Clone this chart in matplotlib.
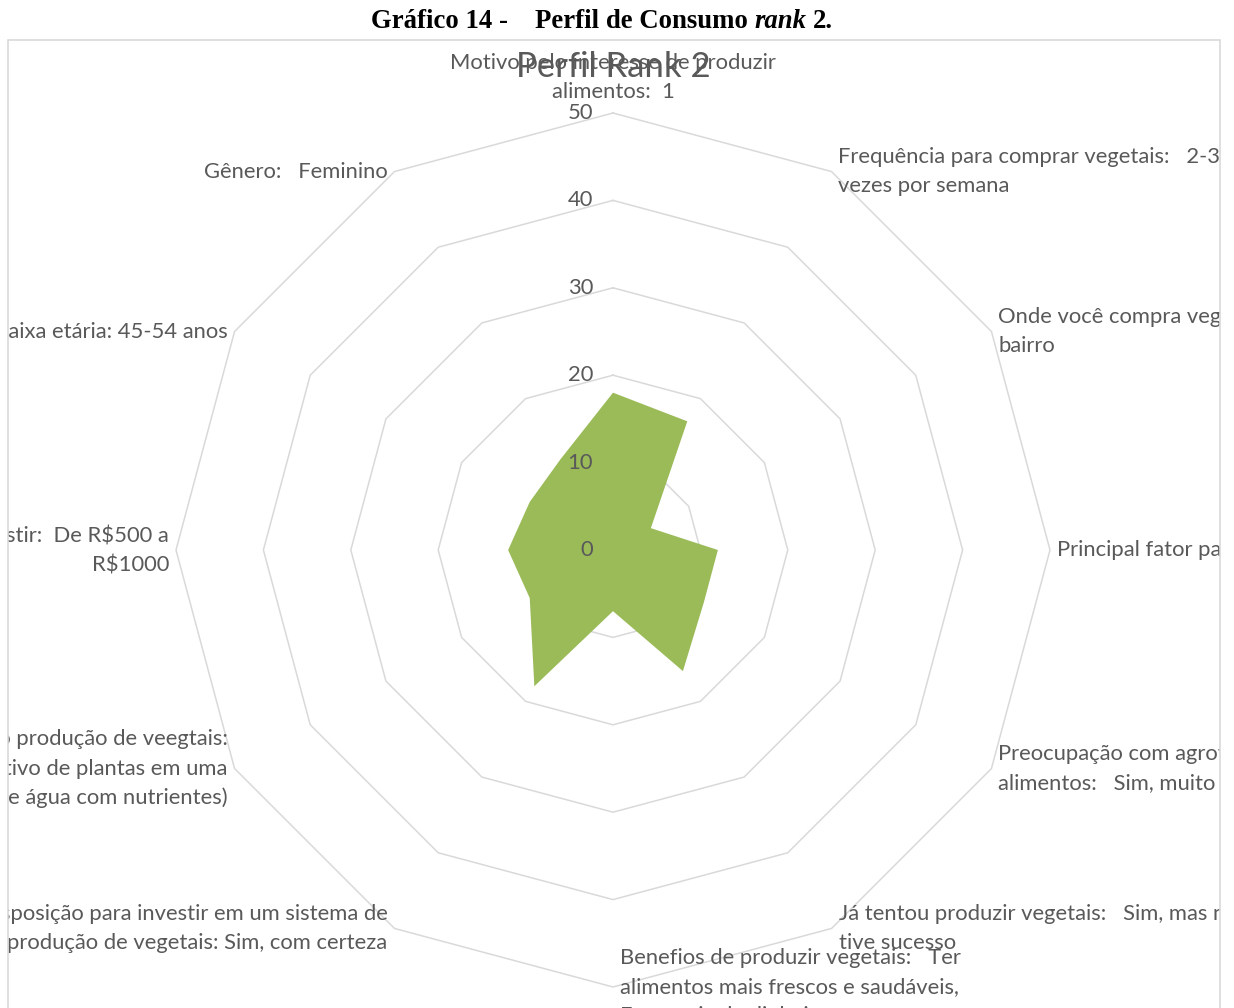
import matplotlib
matplotlib.use("Agg")
import matplotlib.pyplot as plt
import numpy as np
from matplotlib.patches import Rectangle

# ---------------- data ----------------
categories = [
    "Motivo pelo interesse de produzir\nalimentos:  1",
    "Frequência para comprar vegetais:   2-3\nvezes por semana",
    "Onde você compra vegetais:   Feira do\nbairro",
    "Principal fator para comprar vegetais:   Qualidade",
    "Preocupação com agrotóxicos nos\nalimentos:   Sim, muito",
    "Já tentou produzir vegetais:   Sim, mas não\ntive sucesso",
    "Benefios de produzir vegetais:   Ter\nalimentos mais frescos e saudáveis,\nEconomia de dinheiro",
    "Disposição para investir em um sistema de\nprodução de vegetais: Sim, com certeza",
    "Conhece a hidroponia como produção de veegtais:\nSim (cultivo de plantas em uma\nsolução de água com nutrientes)",
    "Valor que estaria disposto a investir:  De R$500 a\nR$1000",
    "Faixa etária: 45-54 anos",
    "Gênero:   Feminino",
]
values = [18, 17, 5, 12, 12, 16, 7, 18, 11, 12, 11, 12]
ring_ticks = [0, 10, 20, 30, 40, 50]
chart_title = "Perfil Rank 2"
fig_title_parts = ["Gráfico 14 -    Perfil de Consumo", "rank", "2."]

# ---------------- style ----------------
W, H, DPI = 1234, 1008, 100
GRAY_TXT = "#595959"
GRID = "#d9d9d9"
FILL = "#9bbb59"
LABEL_FONT = ["Lato", "DejaVu Sans"]
LABEL_SIZE = 15.8

fig = plt.figure(figsize=(W / DPI, H / DPI), dpi=DPI)
fig.patch.set_facecolor("white")

# chart-area frame (clips the labels like the original)
fx0, fy0, fx1 = 8, 40, 1220
frame = Rectangle((fx0 / W, -0.02), (fx1 - fx0) / W, (H - fy0) / H + 0.02,
                  transform=fig.transFigure, facecolor="none",
                  edgecolor="#d9d9d9", lw=1.2, zorder=0)
fig.patches.append(frame)

# polar axes: centre (613, 550) px, radius 437 px
cx, cy, R = 613, 550, 437
ax = fig.add_axes([(cx - R) / W, (H - cy - R) / H, 2 * R / W, 2 * R / H],
                  projection="polar")
ax.set_theta_zero_location("N")
ax.set_theta_direction(-1)
ax.set_ylim(0, ring_ticks[-1])
ax.set_xticks([])
ax.set_yticks([])
ax.grid(False)
ax.spines["polar"].set_visible(False)
ax.patch.set_visible(False)

n = len(categories)
theta = np.linspace(0, 2 * np.pi, n, endpoint=False)
theta_c = np.append(theta, theta[0])

# polygon grid rings
for r in ring_ticks[1:]:
    ax.plot(theta_c, [r] * (n + 1), color=GRID, lw=1.1, zorder=1, clip_on=False)

# data area
vals_c = np.append(values, values[0])
ax.fill(theta_c, vals_c, color=FILL, lw=0, zorder=2)

# radial tick labels
for r in ring_ticks:
    ax.annotate(str(r), xy=(0, r), xytext=(-20, 0), textcoords="offset pixels",
                ha="right", va="center", fontsize=LABEL_SIZE, color=GRAY_TXT,
                family=LABEL_FONT, zorder=4, annotation_clip=False)

# category labels
for t, lab in zip(theta, categories):
    s = np.sin(t)
    c = np.cos(t)
    if abs(s) < 1e-6 and c > 0:        # top
        ha, va, off = "center", "bottom", (0, 11)
    elif abs(s) < 1e-6:                 # bottom
        ha, va, off = "left", "center", (7, 0)
    elif s > 0:
        ha, va, off = "left", "center", (7, 0)
    else:
        ha, va, off = "right", "center", (-7, 0)
    txt = ax.annotate(lab, xy=(t, ring_ticks[-1]), xytext=off,
                      textcoords="offset pixels", ha=ha, va=va,
                      multialignment=ha if ha != "center" else "center",
                      fontsize=LABEL_SIZE, color=GRAY_TXT, family=LABEL_FONT,
                      linespacing=1.55, annotation_clip=False, zorder=5)
    txt.set_clip_path(frame)

# chart title (grey, overlapping the top label like the original)
fig.text(cx / W, 1 - 67 / H, chart_title, ha="center", va="center",
         fontsize=25, color=GRAY_TXT, family=LABEL_FONT)

# figure caption: bold serif with italic "rank"
renderer = fig.canvas.get_renderer()
serif = ["Liberation Serif", "DejaVu Serif"]
size = 19.3
styles = ["normal", "italic", "normal"]
probe1 = fig.text(0, 0, "aa", family=serif, weight="bold", fontsize=size)
probe2 = fig.text(0, 0, "a a", family=serif, weight="bold", fontsize=size)
space_w = (probe2.get_window_extent(renderer).width
           - probe1.get_window_extent(renderer).width)
probe1.remove(); probe2.remove()
pieces = []
for p, st in zip(fig_title_parts, styles):
    tt = fig.text(0, 1 - 22 / H, p, family=serif, weight="bold", style=st,
                  fontsize=size, ha="left", va="center", color="black")
    pieces.append(tt)
widths = [tt.get_window_extent(renderer).width for tt in pieces]
total = sum(widths) + space_w * (len(pieces) - 1)
x = 602 - total / 2
for tt, w in zip(pieces, widths):
    tt.set_x(x / W)
    x += w + space_w

fig.savefig("out.png", dpi=DPI, facecolor="white")
